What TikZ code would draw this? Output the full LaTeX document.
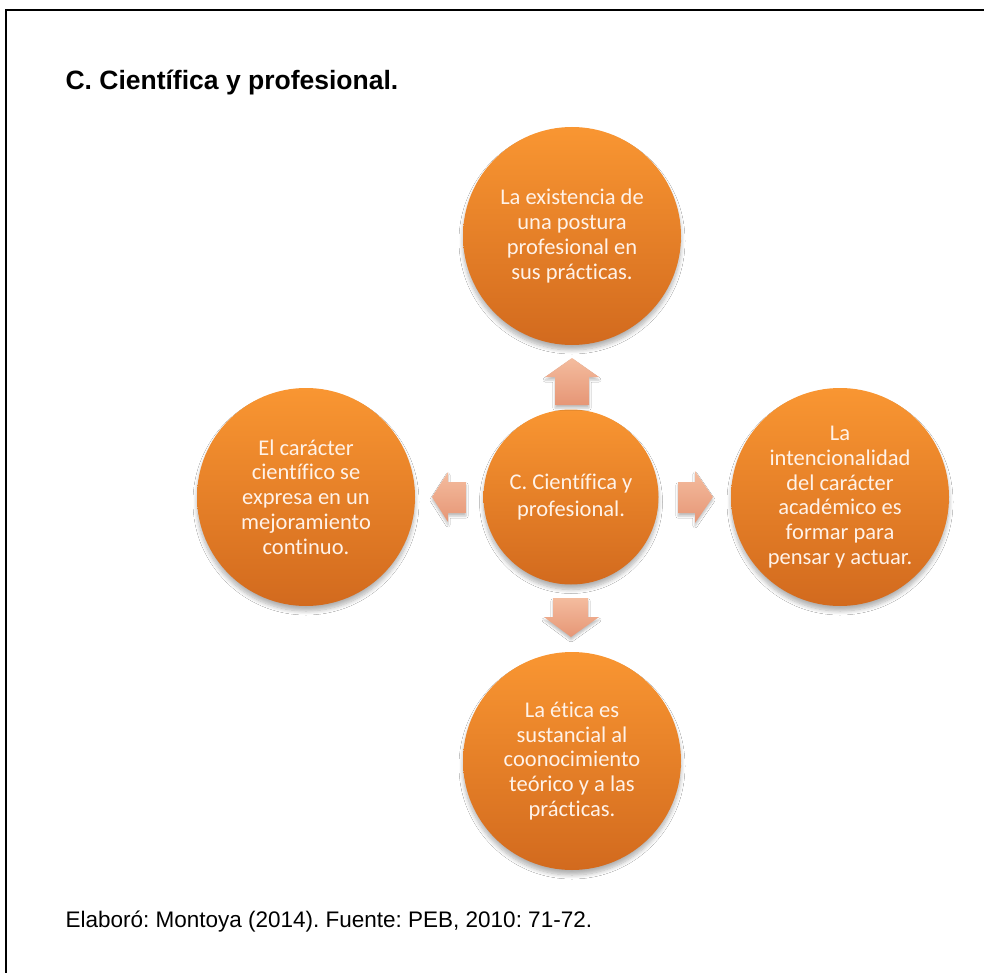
\documentclass[tikz,border=0pt]{standalone}
\usepackage{fontspec}
\setmainfont{Liberation Sans}
\newfontfamily\carl[Ligatures={NoCommon}]{Carlito}
\usetikzlibrary{shadows.blur}
\frenchspacing
\definecolor{otop}{RGB}{249,150,50}
\definecolor{obot}{RGB}{210,106,30}
\definecolor{atop}{RGB}{244,188,158}
\definecolor{abot}{RGB}{230,150,118}
\definecolor{txt}{RGB}{255,242,232}
\tikzset{
  bubble/.style={circle, draw=none, top color=otop, bottom color=obot,
    minimum size=218pt, inner sep=0pt, text=txt, align=center,
    font=\carl\fontsize{22.5}{24.8}\selectfont,
    blur shadow={shadow xshift=0pt, shadow yshift=-5pt, shadow opacity=30, shadow blur steps=8, shadow blur radius=4pt}},
  hub/.style={bubble, minimum size=175pt, font=\carl\fontsize{22.5}{27}\selectfont},
  blockarrow/.style={top color=atop, bottom color=abot, draw=none,
    blur shadow={shadow xshift=0pt, shadow yshift=-3pt, shadow opacity=25, shadow blur steps=4}},
  frame/.style={line width=2pt, black}
}
\begin{document}
\begin{tikzpicture}[x=1pt,y=-1pt]
\fill[white] (0,0) rectangle (984,973);
\useasboundingbox (0,0) rectangle (984,973);
\draw[frame] (984,10) -- (6,10) -- (6,973);

\node[anchor=base west, font=\bfseries\fontsize{26.5}{30}\selectfont] (title) at (62,90) {C. Científica y profesional.};

\node[hub] (hub) at (571,497) {C. Científica y\\profesional.};
\node[bubble] (top) at (572,236) {La existencia de\\una postura\\profesional en\\sus prácticas.};
\node[bubble] (left) at (306,497) {El carácter\\científico se\\expresa en un\\mejoramiento\\continuo.};
\node[bubble] (right) at (840,497) {La\\intencionalidad\\del carácter\\académico es\\formar para\\pensar y actuar.};
\node[bubble] (bottom) at (572,761) {La ética es\\sustancial al\\coonocimiento\\teórico y a las\\prácticas.};

% block arrows from hub to outer circles
\path[blockarrow] (572,358) -- (599,377) -- (589,377) -- (589,405) -- (555,405) -- (555,377) -- (545,377) -- cycle;
\path[blockarrow] (571,637) -- (599,617) -- (588,617) -- (588,598) -- (553,598) -- (553,617) -- (544,617) -- cycle;
\path[blockarrow] (432,497) -- (448,472) -- (448,482) -- (466,482) -- (466,513) -- (448,513) -- (448,522) -- cycle;
\path[blockarrow] (713,497) -- (695,471) -- (695,482) -- (678,482) -- (678,513) -- (695,513) -- (695,523) -- cycle;

\node[anchor=base west, font=\fontsize{22.5}{26}\selectfont] (source) at (62,927) {Elaboró: Montoya (2014). Fuente: PEB, 2010: 71-72.};
\end{tikzpicture}
\end{document}
